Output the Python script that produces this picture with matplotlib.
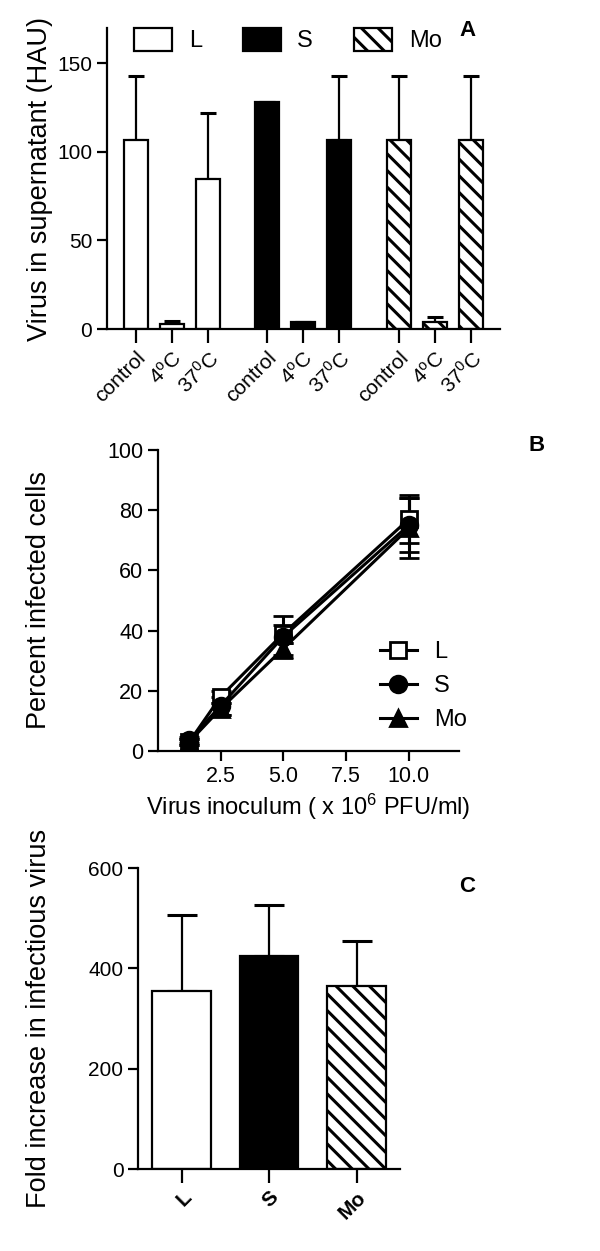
import numpy as np
import matplotlib
import matplotlib.pyplot as plt
from matplotlib.patches import Patch
from matplotlib.lines import Line2D

matplotlib.use('agg')

plt.rcParams['font.family'] = ['Liberation Sans', 'DejaVu Sans']
plt.rcParams['mathtext.fontset'] = 'custom'
plt.rcParams['mathtext.rm'] = 'Liberation Sans'
plt.rcParams['mathtext.default'] = 'regular'
plt.rcParams['hatch.linewidth'] = 2.2
plt.rcParams['axes.linewidth'] = 1.6

# Panel A: virus in supernatant (HAU)
strains = ['L', 'S', 'Mo']
conditions = ['control', '4$^o$C', '37$^0$C']
hau_mean = {'L': [107, 3, 85], 'S': [128, 4, 107], 'Mo': [107, 4, 107]}
hau_err = {'L': [36, 1.5, 37], 'S': [0, 0, 36], 'Mo': [36, 3, 36]}

# Panel B: percent infected cells vs inoculum
inoculum = [1.25, 2.5, 5.0, 10.0]
infected_mean = {'L': [3, 18, 39, 77], 'S': [3.5, 15, 38, 75], 'Mo': [3, 14, 34, 74]}
infected_err = {'L': [1, 2, 3, 8], 'S': [1, 3, 7, 9], 'Mo': [1, 2, 2, 10]}

# Panel C: fold increase in infectious virus
fold_mean = [354, 424, 364]
fold_err = [152, 102, 90]

styles = {
    'L': dict(facecolor='white', hatch=None),
    'S': dict(facecolor='black', hatch=None),
    'Mo': dict(facecolor='white', hatch='\\\\'),
}
markers = {'L': 's', 'S': 'o', 'Mo': '^'}
marker_face = {'L': 'white', 'S': 'black', 'Mo': 'black'}

LABEL = 19.5

fig = plt.figure(figsize=(6, 12.51), dpi=100)


def style_axes(ax, size):
    for side in ['top', 'right']:
        ax.spines[side].set_visible(False)
    ax.tick_params(direction='out', length=7, width=1.6, labelsize=size)


# ---- Panel A
axA = fig.add_axes([0.178, 0.737, 0.655, 0.2406])
group_gap = 3.65
positions, labels = [], []
for g, strain in enumerate(strains):
    xs = np.arange(3) + g * group_gap
    axA.errorbar(xs, hau_mean[strain], yerr=[np.zeros(3), hau_err[strain]],
                 fmt='none', ecolor='black', elinewidth=1.6, capsize=6,
                 capthick=2.2, zorder=1)
    axA.bar(xs, hau_mean[strain], width=0.67, edgecolor='black',
            linewidth=1.6, zorder=2, **styles[strain])
    positions.extend(xs)
    labels.extend(conditions)
axA.set_xlim(-0.8, 10.1)
axA.set_ylim(0, 170)
axA.set_yticks([0, 50, 100, 150])
style_axes(axA, 15)
axA.set_xticks(positions)
axA.set_xticklabels(labels, rotation=45, ha='right', rotation_mode='anchor',
                    fontsize=15)
axA.tick_params(axis='x', length=10)
axA.set_ylabel('Virus in supernatant (HAU)', fontsize=LABEL)
axA.yaxis.set_label_coords(-0.137, 0.5)
handles = [Patch(edgecolor='black', linewidth=1.6, label=s, **styles[s])
           for s in strains]
axA.legend(handles=handles, ncol=3, frameon=False, fontsize=17,
           loc='center left', bbox_to_anchor=(0.04, 0.96), borderpad=0,
           handlelength=1.6, handleheight=1.15, columnspacing=1.75,
           handletextpad=0.7)

# ---- Panel B
axB = fig.add_axes([0.263, 0.3997, 0.502, 0.2406])
for strain in strains:
    axB.errorbar(inoculum, infected_mean[strain], yerr=infected_err[strain],
                 color='black', linewidth=2.2, elinewidth=2.2, capsize=7,
                 capthick=2.2, marker=markers[strain], markersize=12,
                 markerfacecolor=marker_face[strain], markeredgecolor='black',
                 markeredgewidth=2)
axB.set_xlim(0, 12)
axB.set_ylim(0, 100)
axB.set_xticks([2.5, 5.0, 7.5, 10.0])
axB.set_xticklabels(['2.5', '5.0', '7.5', '10.0'])
axB.set_yticks(range(0, 101, 20))
style_axes(axB, 15.5)
axB.set_xlabel('Virus inoculum ( x 10$^6$ PFU/ml)', fontsize=17)
axB.set_ylabel('Percent infected cells', fontsize=LABEL)
axB.yaxis.set_label_coords(-0.352, 0.5)
leg_handles = [Line2D([0], [0], color='black', linewidth=2.2,
                      marker=markers[s], markersize=12,
                      markerfacecolor=marker_face[s], markeredgecolor='black',
                      markeredgewidth=2, label=s) for s in strains]
axB.legend(handles=leg_handles, frameon=False, fontsize=17,
           loc='center left', bbox_to_anchor=(0.697, 0.216), borderpad=0,
           handlelength=1.6, handletextpad=0.7, labelspacing=0.5)

# ---- Panel C
axC = fig.add_axes([0.23, 0.0655, 0.437, 0.2406])
xs = np.arange(3)
axC.errorbar(xs, fold_mean, yerr=[np.zeros(3), fold_err], fmt='none',
             ecolor='black', elinewidth=1.6, capsize=11, capthick=2.2,
             zorder=1)
for x, strain, val in zip(xs, strains, fold_mean):
    axC.bar(x, val, width=0.67, edgecolor='black', linewidth=1.6, zorder=2,
            **styles[strain])
axC.set_xlim(-0.5, 2.5)
axC.set_ylim(0, 600)
axC.set_yticks([0, 200, 400, 600])
style_axes(axC, 15)
axC.set_xticks(xs)
axC.set_xticklabels(strains, rotation=45, ha='right', rotation_mode='anchor',
                    fontsize=15, fontweight='bold')
axC.tick_params(axis='x', length=10)
axC.set_ylabel('Fold increase in infectious virus', fontsize=LABEL)
axC.yaxis.set_label_coords(-0.328, 0.5)

# panel letters
for letter, (px, py) in {'A': (467, 30), 'B': (537, 445), 'C': (467, 887)}.items():
    fig.text(px / 600, 1 - py / 1251, letter, ha='center', va='center',
             fontsize=16, fontweight='bold')

fig.savefig('out.png', dpi=100)
